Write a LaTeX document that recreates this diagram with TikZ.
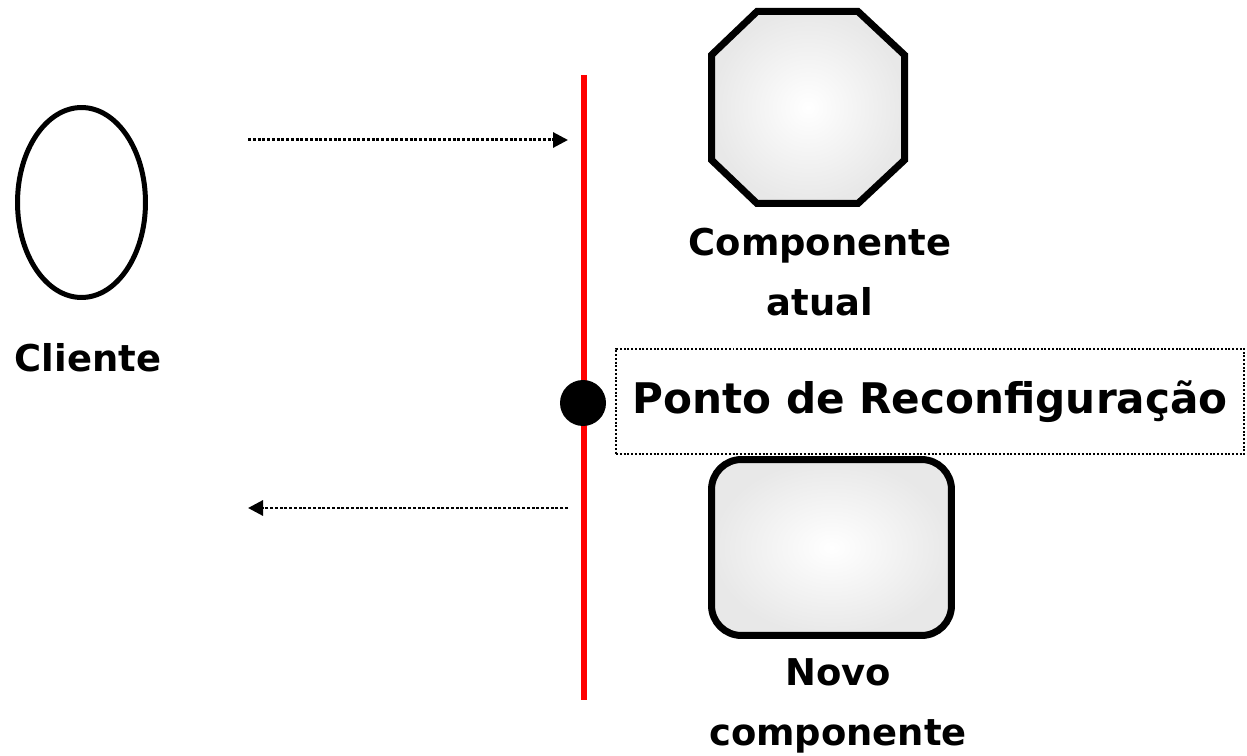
\documentclass[tikz,border=0pt]{standalone}
\usepackage{fontspec}
\setmainfont{DejaVu Sans}
\usetikzlibrary{shapes.geometric,arrows.meta,positioning}
\tikzset
{
    client/.style   = {ellipse, draw=black, line width=0.1cm, minimum width=2.56cm, minimum height=3.8cm, inner sep=0pt},
    oldcomp/.style  = {draw=black, line width=0.14cm, inner color=white, outer color=black!9},
    newcomp/.style  = {rectangle, rounded corners=0.6cm, draw=black, line width=0.14cm, minimum width=4.8cm, minimum height=3.52cm, inner sep=0pt, shade, inner color=white, outer color=black!9},
    label/.style    = {font=\bfseries\fontsize{21}{34}\selectfont, align=center},
    pointbox/.style = {draw=black, densely dotted, line width=0.04cm, minimum width=12.56cm, minimum height=2.12cm, font=\bfseries\fontsize{24}{29}\selectfont},
    msg/.style      = {densely dotted, line width=0.06cm, -{Triangle[length=0.3cm, width=0.3cm]}}
}

\begin{document}
\begin{tikzpicture}[x=0.02cm, y=-0.02cm]
\useasboundingbox (0,0) rectangle (1247,756);

\node (cli)[client] 		at (81.5,202.5) 	{};
\node (clilbl)[label] 		at (88,358) 		{Cliente};

\coordinate (stop) at (584,75);
\coordinate (sbot) at (584,700);
\draw[red, line width=0.12cm] (stop) -- (sbot);

\node (rp)[circle, fill=black, minimum size=0.92cm, inner sep=0pt] at (583,403) {};
\node (rplbl)[pointbox] 	at (930,401.5) 		{Ponto de Reconfiguração};

% octagon of the current component
\coordinate (cur) at (808,107.5);
\shade[oldcomp] (757,11.5) -- (858,11.5) -- (904.5,55) -- (904.5,160) -- (858,203.5)
	-- (757,203.5) -- (711.5,160) -- (711.5,55) -- cycle;
\node (curlbl)[label] 		at (820,272) 		{Componente\\atual};

\node (new)[newcomp] 		at (831.5,547.5) 	{};
\node (newlbl)[label] 		at (838,706) 		{Novo\\componente};

\coordinate (req0) at (248,140);
\coordinate (req1) at (568,140);
\coordinate (rep0) at (568,508);
\coordinate (rep1) at (248,508);

\draw[msg] (req0) -- (req1);
\draw[msg] (rep0) -- (rep1);

\end{tikzpicture}
\end{document}
